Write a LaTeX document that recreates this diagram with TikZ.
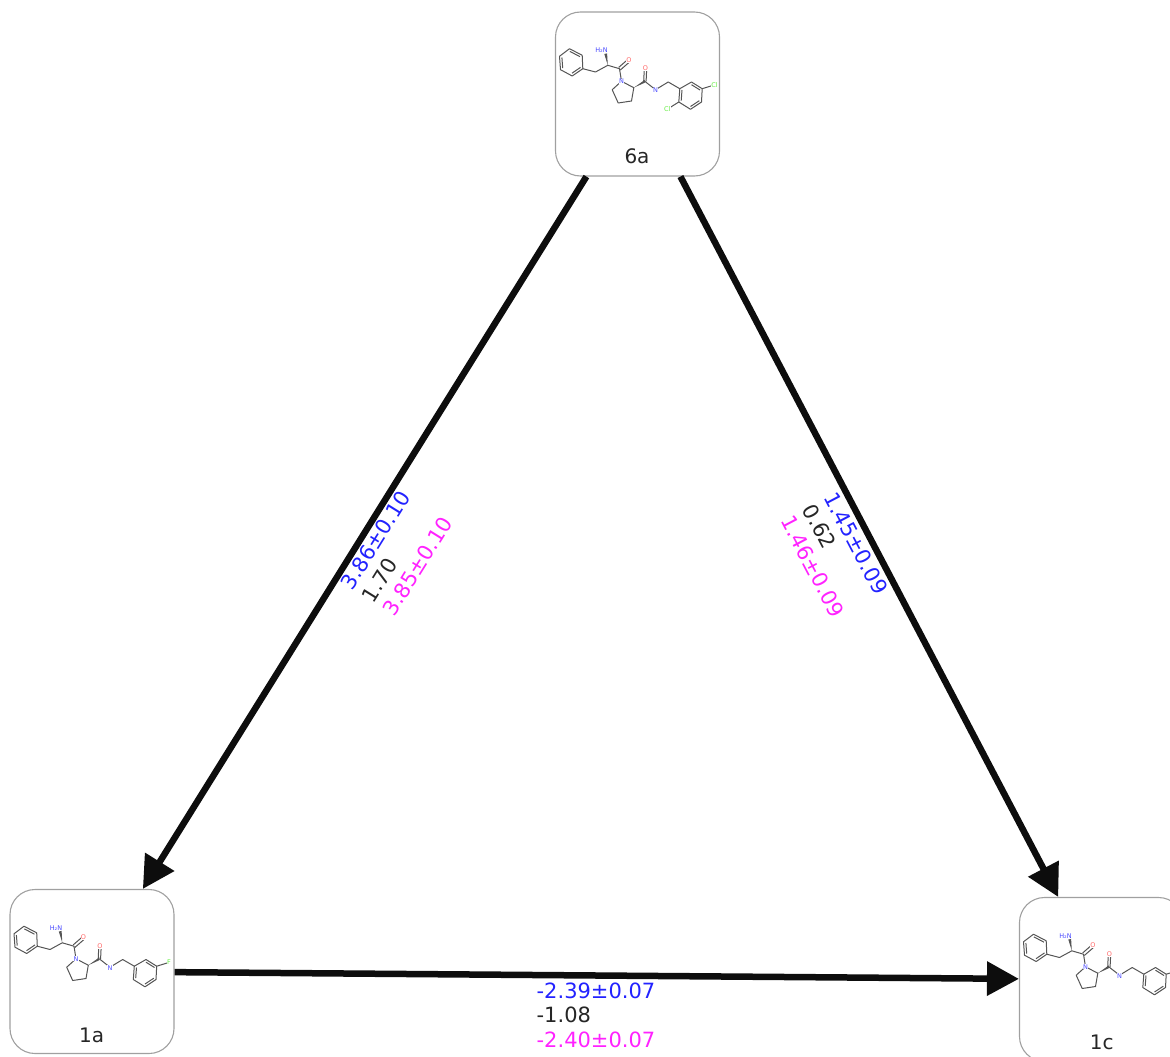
\documentclass[tikz,border=0pt]{standalone}
\usepackage{fontspec}
\setmainfont{DejaVu Sans}
\usetikzlibrary{arrows.meta}
\definecolor{bondgray}{HTML}{555555}
\definecolor{boxgray}{HTML}{A0A0A0}
\definecolor{clgreen}{HTML}{66EE44}
\definecolor{febar}{HTML}{2222FF}
\definecolor{fepink}{HTML}{FF22FF}
\tikzset{
  molbox/.style={draw=boxgray,line width=1.1pt,rounded corners=25pt,minimum width=164pt,minimum height=164pt,inner sep=0pt},
  edgeline/.style={line width=6.5pt,draw=black!95,-{Triangle[length=32pt,width=33pt]}},
  molname/.style={font=\fontsize{20}{24}\selectfont,text=black!85,inner sep=0pt},
  fep/.style={align=left,inner sep=0pt,font=\fontsize{21}{24.5}\selectfont},
  bond/.style={draw=bondgray,line width=1pt,line join=round},
  atom/.style={font=\fontsize{6.5}{6.5}\selectfont,inner sep=.3pt,fill=white},
  fbond/.pic={\draw[bond] (146.7,76.7) -- (158.7,73);},
  molcore/.pic={
    \draw[bond] (14,36.7) -- (26.7,43.3) -- (27.3,56.7) -- (16.7,64) -- (5,57.7) -- (4,44.3) -- cycle;
    \draw[bond] (14.4,39.4) -- (24.5,44.7) (25,55.4) -- (16.5,61.2) (7.2,56.2) -- (6.4,45.5);
    \draw[bond] (27.3,56.7) -- (40,60) -- (52.3,53.3) -- (64,56.7) -- (66,69.3);
    \fill[bondgray] (52.3,53.3) -- (48.8,42) -- (51.6,41.4) -- cycle;
    \draw[bond] (63.2,55.4) -- (72.4,47.4) (64.8,58) -- (74,50);
    \draw[bond] (66,69.3) -- (78.3,75.7) -- (76,89) -- (62.7,91) -- (56.7,77.7) -- cycle;
    \fill[bondgray] (78.3,75.7) -- (89.3,67.9) -- (89.3,70.7) -- cycle;
    \draw[bond] (88.2,69.3) -- (88.8,56.7) (90.6,69.3) -- (91.2,56.7);
    \draw[bond] (89.3,69.3) -- (100,77.7) -- (112.7,70) -- (124.3,76.7);
    \draw[bond] (124.3,76.7) -- (136,70) -- (146.7,76.7) -- (146,90) -- (135,97.3) -- (123.3,90) -- cycle;
    \draw[bond] (136,72.7) -- (144.5,78) (143.8,88.7) -- (135,94.5) (125.7,88.7) -- (126.5,78);
    \node[atom,text=blue!70] (nh) at (46,38.3) {H₂N};
    \node[atom,text=red!60] (oa) at (73.5,48) {O};
    \node[atom,text=blue!70] (na) at (66,69.3) {N};
    \node[atom,text=red!60] (ob) at (90,56.5) {O};
    \node[atom,text=blue!70] (nb) at (100,78.5) {N};
  },
  dichloro/.pic={
    \draw[bond] (146.7,76.7) -- (158.7,73) (123.3,90) -- (111.7,97.3);
    \node[atom,text=clgreen] (cla) at (159,73) {Cl};
    \node[atom,text=clgreen] (clb) at (111.7,97.3) {Cl};
  },
  fluoro/.pic={
    \draw[bond] (146.7,76.7) -- (158.7,73);
    \node[atom,text=clgreen] (fa) at (159,73) {F};
  },
}
\begin{document}
\begin{tikzpicture}[x=1pt,y=-1pt]
\useasboundingbox (0,0) rectangle (1170,1057);
\clip (0,0) rectangle (1170,1057);
\node[molbox] (a6) at (637.5,94) {};
\node[molbox] (a1) at (92,971.5) {};
\node[molbox] (c1) at (1101.5,979.5) {};
% molecules
\pic (m6) at (555.5,12) {molcore};
\pic (x6) at (555.5,12) {dichloro};
\pic (m1) at (10,889.5) {molcore};
\pic (x1) at (10,889.5) {fluoro};
\pic (n1) at (1019.5,897.5) {molcore};
\pic (y1) at (1019.5,897.5) {fbond};
\node[molname] (t6) at (637,156.5) {6a};
\node[molname] (t1) at (91.7,1035) {1a};
\node[molname] (u1) at (1101.7,1042) {1c};
% edges
\draw[edgeline] (a6) -- (a1);
\draw[edgeline] (a6) -- (c1);
\draw[edgeline] (a1) -- (c1);
% values
\node[fep,rotate=58.1] (e61) at (396.5,553) {\textcolor{febar}{3.86±0.10}\\\textcolor{black!85}{1.70}\\\textcolor{fepink}{3.85±0.10}};
\node[fep,rotate=-62.3] (e6c) at (834.5,555) {\textcolor{febar}{1.45±0.09}\\\textcolor{black!85}{0.62}\\\textcolor{fepink}{1.46±0.09}};
\node[fep] (e1c) at (596,1015) {\textcolor{febar}{-2.39±0.07}\\\textcolor{black!85}{-1.08}\\\textcolor{fepink}{-2.40±0.07}};
\end{tikzpicture}
\end{document}
